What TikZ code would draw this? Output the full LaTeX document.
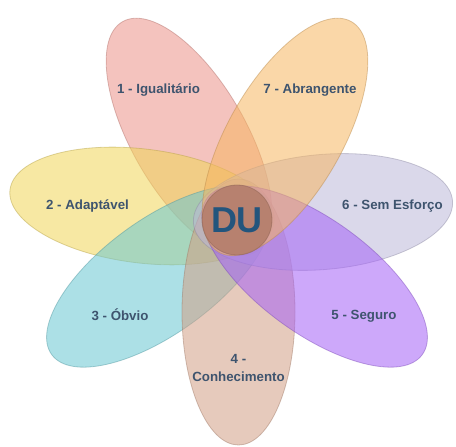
\documentclass[tikz,border=0pt]{standalone}
\usepackage{fontspec}
\setmainfont{Liberation Sans}
\definecolor{cpink}{RGB}{235,146,137}
\definecolor{corange}{RGB}{246,182,97}
\definecolor{cyellow}{RGB}{240,213,88}
\definecolor{clav}{RGB}{188,184,217}
\definecolor{cpurple}{RGB}{164,97,246}
\definecolor{ccyan}{RGB}{104,199,210}
\definecolor{cbrown}{RGB}{210,159,133}
\definecolor{cdu}{RGB}{176,122,102}
\definecolor{labelc}{RGB}{62,84,110}
\definecolor{ducol}{RGB}{35,85,125}
\tikzset{
  petal/.style={fill=#1, fill opacity=0.55, draw=#1!75!black, draw opacity=0.45, line width=0.8pt},
  lbl/.style={text=labelc, font=\fontsize{13.3}{18}\selectfont\bfseries, align=center, inner sep=0pt},
}
\begin{document}
\begin{tikzpicture}[x=1pt,y=1pt]
\useasboundingbox (0,0) rectangle (456,447);
% petals
\path[petal=cpink]   (189,310.1) ellipse [x radius=133, y radius=57, rotate=120];
\path[petal=cyellow] (142,241)   ellipse [x radius=133, y radius=57, rotate=-7];
\path[petal=ccyan]   (159.3,170.6) ellipse [x radius=133, y radius=57, rotate=36];
\path[petal=cbrown]  (238.5,135) ellipse [x radius=133, y radius=56.5, rotate=90];
\path[petal=clav]    (323,235)   ellipse [x radius=130, y radius=57.5, rotate=5];
\path[petal=cpurple] (314.7,170.6) ellipse [x radius=133, y radius=57, rotate=-36];
\path[petal=corange] (285,310.1) ellipse [x radius=133, y radius=57, rotate=60];
% center
\node[circle, minimum size=70pt, inner sep=0pt, fill=cdu, fill opacity=0.8, draw=cdu!80!black, draw opacity=0.5, line width=0.8pt] (du) at (237,227) {};
\node[text=ducol, font=\fontsize{36}{36}\selectfont\bfseries, inner sep=0pt] (dut) at (du.center) {DU};
% labels
\node[lbl] (l1) at (158.5,357) {1 - Igualitário};
\node[lbl] (l7) at (310,357) {7 - Abrangente};
\node[lbl] (l2) at (87.5,241) {2 - Adaptável};
\node[lbl] (l6) at (392.5,241) {6 - Sem Esforço};
\node[lbl] (l3) at (120,132) {3 - Óbvio};
\node[lbl] (l5) at (364,131) {5 - Seguro};
\node[lbl] (l4) at (238.5,79) {4 -\\Conhecimento};
\end{tikzpicture}
\end{document}
